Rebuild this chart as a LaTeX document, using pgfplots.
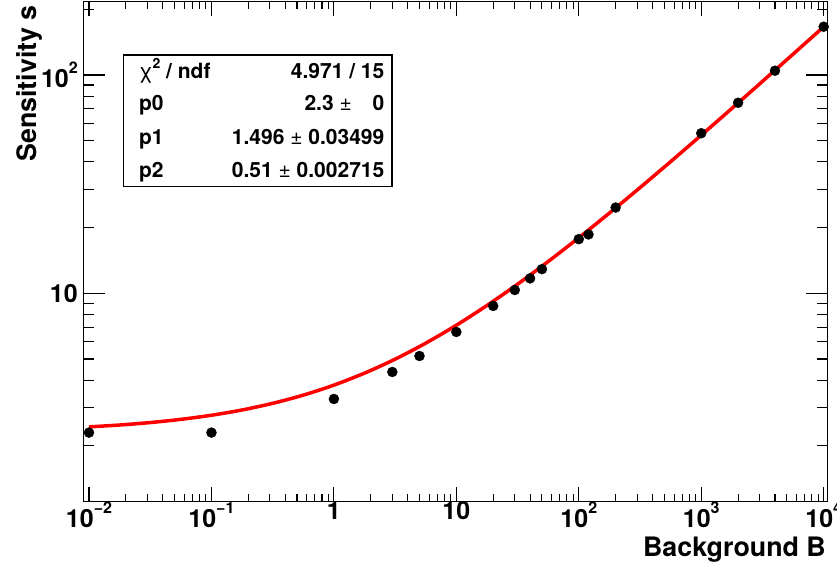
\documentclass[border=0pt]{standalone}
\usepackage{fontspec}
\setmainfont{TeX Gyre Heros}
\usepackage{pgfplots}
\pgfplotsset{compat=1.18}
\newcommand{\tp}[1]{10\raisebox{1.05ex}{\fontsize{16bp}{16bp}\selectfont #1}}
\begin{document}
\begin{tikzpicture}
\useasboundingbox (0,0) rectangle (837bp,568bp);
\begin{axis}[
  at={(83.3bp,66.5bp)}, anchor=south west,
  scale only axis, width=744.4bp, height=500bp,
  xmode=log, ymode=log,
  xmin=0.008982, xmax=10782, ymin=1.112, ymax=217.1,
  axis line style={line width=1.2bp},
  tick align=inside,
  xtick={0.01,0.1,1,10,100,1000,10000},
  xticklabels={\tp{−2},\tp{−1},1,10,\tp{2},\tp{3},\tp{4}},
  minor xtick={0.02,0.03,0.04,0.05,0.06,0.07,0.08,0.09,
    0.2,0.3,0.4,0.5,0.6,0.7,0.8,0.9,
    2,3,4,5,6,7,8,9,20,30,40,50,60,70,80,90,
    200,300,400,500,600,700,800,900,2000,3000,4000,5000,6000,7000,8000,9000},
  ytick={10,100},
  yticklabels={10,\tp{2}},
  minor ytick={2,3,4,5,6,7,8,9,20,30,40,50,60,70,80,90,200},
  ticklabel style={font=\fontsize{25bp}{25bp}\selectfont\bfseries},
  xticklabel style={yshift=1bp, inner sep=1bp},
  yticklabel style={xshift=-2bp},
  every tick/.style={black, line width=1.1bp},
  major x tick style={/pgfplots/major tick length=15bp},
  minor x tick style={/pgfplots/minor tick length=7.5bp},
  major y tick style={/pgfplots/major tick length=22bp},
  minor y tick style={/pgfplots/minor tick length=11bp},
]
\addplot[red, line width=3.5bp, no markers, smooth] coordinates {
(0.01,2.443) (0.017783,2.492) (0.031623,2.557) (0.056234,2.645)
(0.1,2.762) (0.17783,2.920) (0.31623,3.132) (0.56234,3.415)
(1,3.796) (1.7783,4.307) (3.1623,4.991) (5.6234,5.909)
(10,7.141) (17.783,8.793) (31.623,11.008) (56.234,13.980)
(100,17.965) (177.83,23.310) (316.23,30.479) (562.34,40.095)
(1000,52.991) (1778.3,70.288) (3162.3,93.487) (5623.4,124.601)
(10000,166.333)};
\addplot[only marks, mark=*, mark size=5bp, black] coordinates {
(0.01,2.30) (0.1,2.30) (1,3.28) (3,4.36) (5,5.16) (10,6.65)
(20,8.75) (30,10.35) (40,11.7) (50,12.9) (100,17.7) (120,18.6)
(200,24.7) (1000,54.1) (2000,74.6) (4000,104.6) (10000,166.4)};
\end{axis}
% stats box
\draw[line width=1.2bp, fill=white] (123.5bp,381.5bp) rectangle (392bp,513bp);
\begin{scope}[every node/.style={inner sep=0pt, font=\fontsize{21bp}{21bp}\selectfont\bfseries}]
\node[anchor=base west] at (138.8bp,489bp) {{\mdseries χ}\raisebox{0.9ex}{\fontsize{14bp}{14bp}\selectfont 2} / ndf};
\node[anchor=base east] at (384.5bp,489bp) {4.971 / 15};
\node[anchor=base west] at (138.8bp,457bp) {p0};
\node[anchor=base east] at (352bp,457bp) {2.3 {\mdseries ±}};
\node[anchor=base east] at (384.5bp,457bp) {0};
\node[anchor=base west] at (138.8bp,423.5bp) {p1};
\node[anchor=base east] at (384.5bp,423.5bp) {1.496 {\mdseries ±} 0.03499};
\node[anchor=base west] at (138.8bp,390bp) {p2};
\node[anchor=base east] at (384.5bp,390bp) {0.51 {\mdseries ±} 0.002715};
\end{scope}
\node[anchor=base east, inner sep=0pt, font=\fontsize{26.8bp}{26.8bp}\selectfont\bfseries] at (826bp,12bp) {Background B};
\node[anchor=base east, rotate=90, inner sep=0pt, font=\fontsize{26.8bp}{26.8bp}\selectfont\bfseries] at (36bp,563bp) {Sensitivity s};
\end{tikzpicture}
\end{document}
